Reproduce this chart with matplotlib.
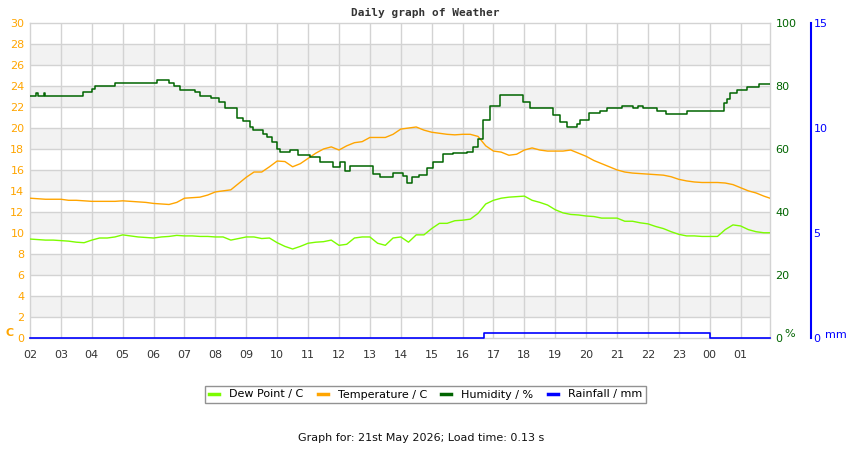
import numpy as np
import matplotlib
matplotlib.use("Agg")
import matplotlib.pyplot as plt
from matplotlib.lines import Line2D

# ---------------- data ----------------
hour_labels = ["02", "03", "04", "05", "06", "07", "08", "09", "10", "11", "12", "13",
               "14", "15", "16", "17", "18", "19", "20", "21", "22", "23", "00", "01"]

# quarter-hour samples (hours after 02:00), plus final sample
temp_times = np.append(np.arange(0, 24, 0.25), 23.95)
temperature = [
    13.3, 13.25, 13.2, 13.2, 13.2, 13.1, 13.1, 13.05,
    13.0, 13.0, 13.0, 13.0, 13.05, 13.0, 12.95, 12.9,
    12.8, 12.75, 12.7, 12.9, 13.3, 13.35, 13.4, 13.6,
    13.9, 14.0, 14.1, 14.7, 15.3, 15.8, 15.8, 16.3,
    16.85, 16.8, 16.3, 16.6, 17.1, 17.6, 18.0, 18.2,
    17.9, 18.3, 18.6, 18.7, 19.1, 19.1, 19.1, 19.4,
    19.9, 20.0, 20.1, 19.8, 19.6, 19.5, 19.4, 19.35,
    19.4, 19.4, 19.2, 18.3, 17.8, 17.7, 17.4, 17.5,
    17.9, 18.1, 17.9, 17.8, 17.8, 17.8, 17.9, 17.6,
    17.3, 16.9, 16.6, 16.3, 16.0, 15.8, 15.7, 15.65,
    15.6, 15.55, 15.5, 15.35, 15.1, 14.95, 14.85, 14.8,
    14.8, 14.8, 14.75, 14.6, 14.3, 14.0, 13.8, 13.5,
    13.3]
dew_point = [
    9.4, 9.35, 9.3, 9.3, 9.25, 9.2, 9.1, 9.05,
    9.3, 9.5, 9.5, 9.6, 9.8, 9.7, 9.6, 9.55,
    9.5, 9.6, 9.65, 9.75, 9.7, 9.7, 9.65, 9.65,
    9.6, 9.6, 9.3, 9.45, 9.6, 9.6, 9.45, 9.5,
    9.05, 8.7, 8.45, 8.7, 9.0, 9.1, 9.15, 9.3,
    8.8, 8.9, 9.5, 9.6, 9.6, 9.0, 8.8, 9.5,
    9.6, 9.1, 9.8, 9.8, 10.4, 10.9, 10.9, 11.15,
    11.2, 11.3, 11.85, 12.75, 13.1, 13.3, 13.4, 13.45,
    13.5, 13.1, 12.9, 12.65, 12.2, 11.9, 11.75, 11.7,
    11.6, 11.55, 11.4, 11.4, 11.4, 11.1, 11.1, 10.95,
    10.85, 10.6, 10.4, 10.1, 9.85, 9.7, 9.7, 9.65,
    9.65, 9.65, 10.3, 10.75, 10.65, 10.3, 10.1, 10.0,
    10.0]

hum_times = [0, 0.2, 0.25, 0.45, 0.5, 1.7, 2.0, 2.1, 2.75, 4.1, 4.5, 4.67, 4.85, 5.34, 5.5,
             5.86, 6.12, 6.3, 6.7, 6.9, 7.12, 7.23, 7.55, 7.66, 7.82, 8.0, 8.1,
             8.4, 8.68, 9.06, 9.38, 9.8, 10.03, 10.2, 10.36, 11.1, 11.33, 11.75,
             12.07, 12.2, 12.36, 12.6, 12.85, 13.05, 13.37, 13.7, 14.14, 14.34,
             14.5, 14.66, 14.9, 15.2, 15.95, 16.18, 16.93, 17.15, 17.37, 17.7,
             17.8, 18.1, 18.45, 18.67, 19.15, 19.5, 19.68, 19.85, 20.3, 20.6,
             21.25, 22.45, 22.55, 22.65, 22.88, 23.2, 23.6, 23.95]
humidity = [77.0, 77.9, 77.0, 77.9, 77.0, 78.1, 79.1, 79.9, 80.9, 81.8, 80.9, 79.9, 78.9, 78.1, 77.0,
            76.1, 74.9, 72.9, 70.0, 68.9, 67.0, 66.0, 64.9, 63.8, 62.3, 59.9, 59.0,
            59.6, 58.0, 57.5, 55.9, 54.3, 55.9, 53.0, 54.6, 52.0, 51.1, 52.2,
            51.5, 49.2, 51.1, 51.6, 53.8, 55.9, 58.3, 58.8, 59.1, 60.7,
            63.3, 69.2, 73.6, 77.1, 75.0, 72.9, 70.7, 68.6, 67.0, 68.1,
            69.2, 71.4, 72.0, 72.9, 73.7, 72.9, 73.7, 72.9, 72.0, 71.0,
            72.0, 74.5, 76.0, 77.8, 78.9, 79.8, 80.8, 80.8]

rain_times = [0, 14.7, 22.0, 23.95]
rainfall = [0.0, 0.2, 0.0, 0.0]

# ---------------- figure ----------------
W, H = 850, 450
fig = plt.figure(figsize=(W / 100, H / 100), dpi=100)
L, R, T, B = 30, 770, 23.3, 337.5
ax = fig.add_axes([L / W, 1 - B / H, (R - L) / W, (B - T) / H])

GRID = "#d3d3d3"
ORANGE = "#ffa500"
LIME = "#7cfc00"
DKGREEN = "#006400"
BLUE = "#0000ff"

ax.set_xlim(0, 23.95)
ax.set_ylim(0, 30)
for y0 in range(2, 30, 4):
    ax.axhspan(y0, y0 + 2, color="#f2f2f2", zorder=0, lw=0)
for y in range(2, 30, 2):
    ax.axhline(y, color=GRID, lw=1.0, zorder=0.5)
for x in range(1, 24):
    ax.axvline(x, color=GRID, lw=1.0, zorder=0.5)
for s in ax.spines.values():
    s.set_color(GRID)
    s.set_linewidth(1.0)

ax.set_xticks(range(24))
ax.set_xticklabels(hour_labels)
ax.set_yticks(range(0, 31, 2))
ax.tick_params(axis="x", length=0, pad=9, labelsize=8, colors="#333333")
ax.tick_params(axis="y", length=0, pad=4, labelsize=8, colors=ORANGE)

ax.plot(temp_times, temperature, color=ORANGE, lw=1.0, zorder=3)
ax.plot(temp_times, dew_point, color=LIME, lw=1.0, zorder=3)

ax2 = ax.twinx()
ax2.set_ylim(0, 100)
ax2.set_yticks(range(0, 101, 20))
ax2.tick_params(axis="y", length=0, pad=4, labelsize=8, colors=DKGREEN)
for s in ax2.spines.values():
    s.set_visible(False)
ax2.step(hum_times, humidity, where="post", color=DKGREEN, lw=1.1, zorder=3)

ax3 = ax.twinx()
ax3.set_ylim(0, 15)
ax3.set_yticks([0, 5, 10, 15])
for k, s in ax3.spines.items():
    s.set_visible(k == "right")
ax3.spines["right"].set_position(("outward", 29.3))
ax3.spines["right"].set_color(BLUE)
ax3.spines["right"].set_linewidth(1.5)
ax3.tick_params(axis="y", length=0, pad=2, labelsize=8, colors=BLUE)
ax3.step(rain_times, rainfall, where="post", color=BLUE, lw=1.2, zorder=4, clip_on=False)

# unit labels
fig.text(5 / W, 1 - 333 / H, "C", color=ORANGE, fontsize=8, fontweight="bold",
         ha="left", va="center")
fig.text(784 / W, 1 - 334 / H, "%", color=DKGREEN, fontsize=8, ha="left", va="center")
fig.text(825 / W, 1 - 335 / H, "mm", color=BLUE, fontsize=8, ha="left", va="center")

# title
fig.text(425 / W, 1 - 13 / H, "Daily graph of Weather", fontsize=8, fontweight="bold",
         family="DejaVu Sans Mono", color="#333333", ha="center", va="center")

# legend
handles = [Line2D([], [], color=LIME, lw=2.5),
           Line2D([], [], color=ORANGE, lw=2.5),
           Line2D([], [], color=DKGREEN, lw=2.5),
           Line2D([], [], color=BLUE, lw=2.5)]
labels = ["Dew Point / C", "Temperature / C", "Humidity / %", "Rainfall / mm"]
leg = fig.legend(handles, labels, loc="center", bbox_to_anchor=(425.5 / W, 1 - 394.5 / H),
                 ncol=4, fontsize=8, frameon=True, fancybox=False, handlelength=0.9,
                 handletextpad=0.9, columnspacing=1.3, borderpad=0.35, borderaxespad=0)
leg.get_frame().set_edgecolor("#777777")
leg.get_frame().set_linewidth(1.0)

fig.text(421 / W, 1 - 438 / H, "Graph for: 21st May 2026; Load time: 0.13 s",
         fontsize=8, color="#111111", ha="center", va="center")

fig.savefig("out.png", dpi=100)
